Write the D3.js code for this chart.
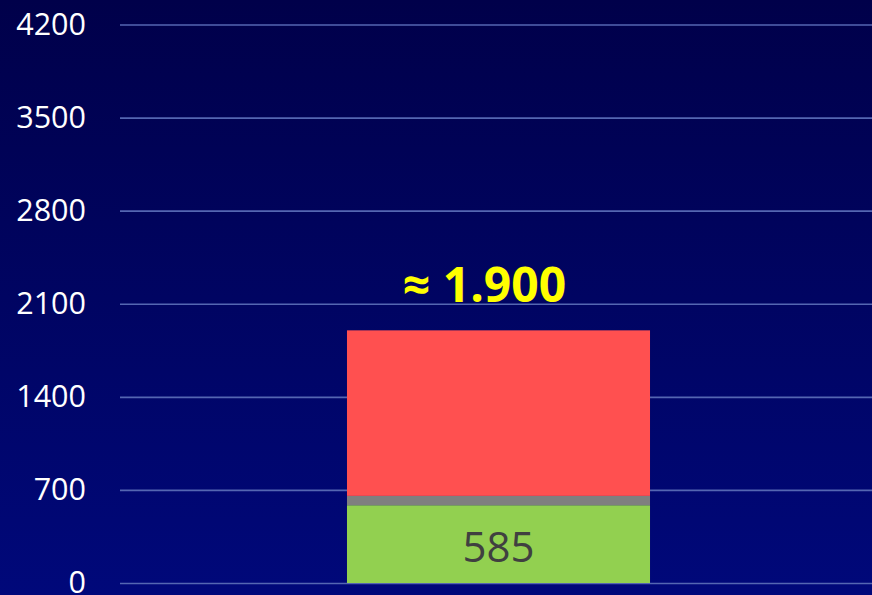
<!DOCTYPE html>
<html>
<head>
<meta charset="utf-8">
<script src="https://cdn.jsdelivr.net/npm/d3@7"></script>
<style>
  html, body { margin: 0; padding: 0; background: #000048; }
  svg { display: block; font-family: "Open Sans", "Noto Sans", sans-serif; }
  .tick text { fill: #ffffff; font-size: 30.5px; }
  .grid line { stroke: #5466b2; stroke-width: 1.6; }
</style>
</head>
<body>
<script>
var categories = ['Total'];
var seriesNames = ['base', 'mid', 'rest'];
var seriesColors = ['#92d050', '#7f7f7f', '#ff5050'];
var baseValues = [585];
var midValues = [70];
var restValues = [1245];
var yTicks = [0, 700, 1400, 2100, 2800, 3500, 4200];
var totalLabel = '\u2248 1.900';

var ww = 872, hh = 595
  , margin = {top: 24.5, right: -5, bottom: 12, left: 120}
  , width = ww - margin.left - margin.right
  , height = hh - margin.top - margin.bottom;

var svgm = d3.select('body').append('svg').attr('width', ww).attr('height', hh);

var grad = svgm.append('defs').append('linearGradient').attr('id', 'bg')
    .attr('x1', '0%').attr('y1', '0%').attr('x2', '0%').attr('y2', '100%');
grad.append('stop').attr('offset', '0%').attr('stop-color', '#00004a');
grad.append('stop').attr('offset', '100%').attr('stop-color', '#00087a');
svgm.append('rect').attr('width', ww).attr('height', hh).attr('fill', 'url(#bg)');

var rows = categories.map(function(c, i) {
    return {cat: c, base: baseValues[i], mid: midValues[i], rest: restValues[i]};
});
var stacked = d3.stack().keys(seriesNames)(rows);

var x = d3.scaleBand().domain(categories).range([0, width]).paddingInner(0).paddingOuter(0.749)
  , y = d3.scaleLinear().domain([0, 4200]).range([height, 0]);

var svg = svgm.append('g').attr('transform', `translate(${margin.left},${margin.top})`);

// grid lines
svg.append('g').attr('class', 'grid')
    .call(d3.axisLeft(y).tickValues(yTicks).tickSize(-width).tickFormat(''))
    .call(function(g) { g.select('.domain').remove(); });

// tick labels
svg.append('g').attr('class', 'axis')
    .call(d3.axisLeft(y).tickValues(yTicks).tickSize(0).tickPadding(34).tickFormat(d3.format('d')))
    .call(function(g) {
        g.select('.domain').remove();
        g.selectAll('text').attr('font-family', '"Open Sans", "Noto Sans", sans-serif');
    });

// stacked bar
svg.append('g').selectAll('g').data(stacked).enter().append('g')
    .attr('fill', function(d, i) { return seriesColors[i]; })
    .selectAll('rect').data(function(d) { return d; }).enter().append('rect')
    .attr('x', function(d) { return x(d.data.cat); })
    .attr('width', x.bandwidth())
    .attr('y', function(d) { return y(d[1]); })
    .attr('height', function(d) { return y(d[0]) - y(d[1]); });

// value inside green segment
svg.append('g').selectAll('text').data(rows).enter().append('text')
    .attr('x', function(d) { return x(d.cat) + x.bandwidth() / 2; })
    .attr('y', function(d) { return y(d.base / 2); })
    .attr('dy', '0.42em')
    .attr('text-anchor', 'middle')
    .attr('fill', '#404040')
    .attr('font-size', '42px')
    .text(function(d) { return d.base; });

// total label above
svg.append('g').selectAll('text').data(rows).enter().append('text')
    .attr('x', function(d) { return x(d.cat) + x.bandwidth() / 2 - 14; })
    .attr('y', function(d) { return y(d.base + d.mid + d.rest) - 28; })
    .attr('text-anchor', 'middle')
    .attr('fill', '#ffff00')
    .attr('font-weight', 'bold')
    .attr('font-size', '48px')
    .text(totalLabel);
</script>
</body>
</html>
